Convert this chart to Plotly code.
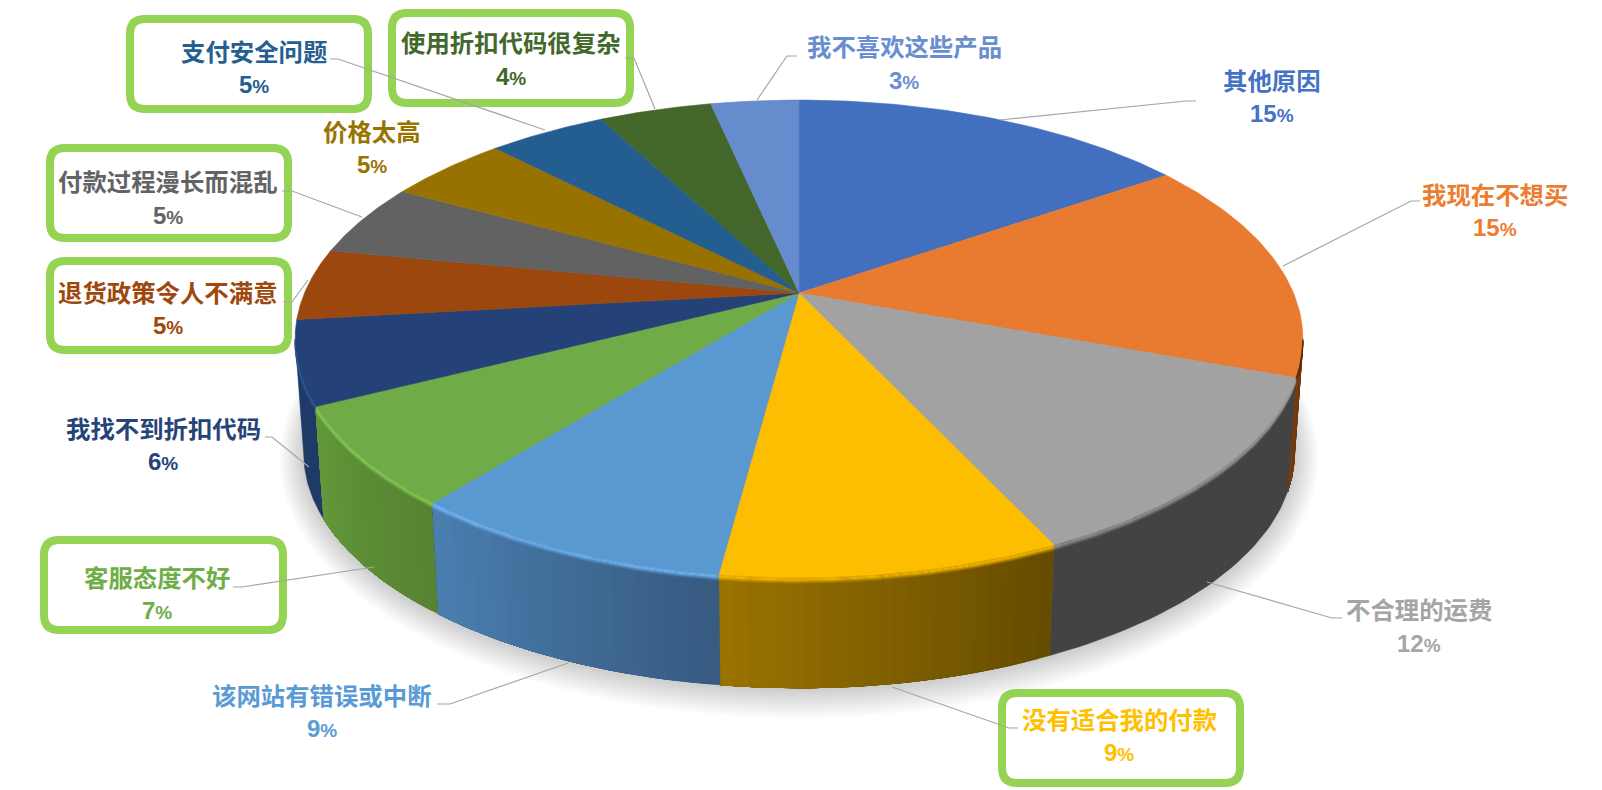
import numpy as np
import plotly.graph_objects as go

# slices clockwise from 12 o'clock
names = ["其他原因", "我现在不想买", "不合理的运费", "没有适合我的付款", "该网站有错误或中断",
         "客服态度不好", "我找不到折扣代码", "退货政策令人不满意", "付款过程漫长而混乱",
         "价格太高", "支付安全问题", "使用折扣代码很复杂", "我不喜欢这些产品"]
shares = [15.4, 15.2, 12.4, 9.1, 8.75, 6.7, 5.65, 4.85, 4.95, 4.7, 4.55, 4.35, 3.4]

label_colors = ["#4472C4", "#ED7D31", "#A5A5A5", "#FFC000", "#5B9BD5", "#70AD47", "#264478",
                "#9E480E", "#636363", "#997300", "#255E91", "#43682B", "#698ED0"]
top_colors = ["#4270BF", "#E97B30", "#A2A2A2", "#FDBD00", "#5A98D2", "#6FAB47", "#244277",
              "#9C470D", "#626262", "#977200", "#245D90", "#43662B", "#678CCD"]
# side wall colours, left and right end of each visible wall
wall_left = {1: "#7A3E10", 2: "#434343", 3: "#9A7300", 4: "#4A7FB0", 5: "#629839", 6: "#1F3A66"}
wall_right = {1: "#6A3408", 2: "#434343", 3: "#644B00", 4: "#375A80", 5: "#578233", 6: "#1F3A66"}
# rim light on the upper wall edge: colour, strength
bevel = {1: ("#5A2C08", 0.8), 2: ("#A2A2A2", 0.75), 3: ("#FDBD00", 0.9), 4: ("#6FB2F0", 1.0),
         5: ("#80C552", 1.0), 6: ("#2E5590", 0.8)}

# label centres: name x, name y, percent y
label_pos = [(1272, 79, 113), (1495, 193, 227), (1419, 608, 643), (1119, 718, 752),
             (322, 694, 728), (157, 576, 610), (163, 427, 461), (168, 291, 325),
             (168, 180, 215), (372, 130, 164), (254, 50, 84), (511, 41, 76), (904, 45, 80)]

# centre lines of the green frames
frames = [(130, 19, 368, 109), (392, 13, 630, 103), (50, 148, 288, 238), (50, 261, 288, 350),
          (44, 540, 283, 630), (1002, 693, 1240, 783)]
leaders = [
    [(1196, 101), (1186, 101), (999, 120)],
    [(1420, 201), (1411, 201), (1283, 266)],
    [(1342, 618), (1332, 618), (1207, 582)],
    [(1018, 728), (1009, 728), (892, 687)],
    [(437, 704), (450, 704), (568, 663)],
    [(233, 587), (242, 587), (374, 567)],
    [(265, 437), (272, 437), (309, 467)],
    [(283, 302), (292, 302), (308, 280)],
    [(282, 191), (292, 191), (362, 217)],
    [(330, 59), (338, 59), (545, 130)],
    [(625, 58), (634, 58), (655, 109)],
    [(797, 56), (787, 56), (757, 100)],
]

# tilted disc: circle seen in perspective
CX, CY = 799, 293
RX, RY, K = 494.5, 230, 0.192
WALL = 115
WALL_SHRINK = 0.983


def project(theta, grow=0.0, drop=0.0, shrink=1.0):
    u, v = np.sin(theta), np.cos(theta)
    d = 1 + K * v
    return CX + (RX + grow) * shrink * u / d, CY - (RY + grow) * shrink * v / d + drop


def mix(c1, c2, t):
    a = [int(c1[i:i + 2], 16) for i in (1, 3, 5)]
    b = [int(c2[i:i + 2], 16) for i in (1, 3, 5)]
    return "#%02x%02x%02x" % tuple(round(a[i] + (b[i] - a[i]) * t) for i in range(3))


def rgba(c, alpha):
    return "rgba(%d,%d,%d,%.3f)" % (int(c[1:3], 16), int(c[3:5], 16), int(c[5:7], 16), alpha)


fig = go.Figure()


def add_poly(x, y, color):
    fig.add_trace(go.Scatter(x=x, y=y, mode="lines", fill="toself", fillcolor=color,
                             line=dict(color=color, width=0.6), hoverinfo="skip", showlegend=False))


edges = np.cumsum([0] + shares) / sum(shares) * 2 * np.pi
# the wall shows between the two widest points of the disc
vis_a, vis_b = np.pi / 2 + np.arcsin(K), 3 * np.pi / 2 - np.arcsin(K)

# soft shadow round the foot of the wall
circle = np.linspace(0, 2 * np.pi, 241)
for g in np.arange(24, 0, -2):
    sx, sy = project(circle, grow=g, drop=WALL + 1, shrink=WALL_SHRINK)
    fig.add_trace(go.Scatter(x=sx, y=sy, mode="lines", fill="toself", fillcolor="rgba(0,0,0,0.014)",
                             line=dict(width=0), hoverinfo="skip", showlegend=False))

# walls, each band painted over the rest of its slice so no seams show
for i in [1, 6, 2, 5, 3, 4]:
    a = max(edges[i], vis_a)
    b = min(edges[i + 1], vis_b)
    n = 1 if wall_left[i] == wall_right[i] else 24
    cuts = np.linspace(a, b, n + 1)
    for j in range(n):
        t = 1 - (j + 0.5) / n
        th = np.linspace(cuts[j], b, 40)
        x1, y1 = project(th)
        x2, y2 = project(th[::-1], drop=WALL, shrink=WALL_SHRINK)
        add_poly(np.r_[x1, x2, x1[0]], np.r_[y1, y2, y1[0]], mix(wall_left[i], wall_right[i], t))

# top face
for i in range(len(shares)):
    th = np.linspace(edges[i], edges[i + 1], 60)
    x, y = project(th)
    add_poly(np.r_[CX, x, CX], np.r_[CY, y, CY], top_colors[i])

# rim light where face turns into wall
for i in wall_left:
    a = max(edges[i], vis_a)
    b = min(edges[i + 1], vis_b)
    th = np.linspace(a, b, 60)
    col, strength = bevel[i]
    for drop, al in [(5.5, 0.15), (4.5, 0.35), (3.5, 0.6), (2.5, 0.9), (1.5, 1.0), (0.5, 0.7)]:
        x, y = project(th, drop=drop)
        fig.add_trace(go.Scatter(x=x, y=y, mode="lines", line=dict(color=rgba(col, al * strength), width=1.2),
                                 hoverinfo="skip", showlegend=False))

shapes = []
for x0, y0, x1, y1 in frames:
    r = 15
    path = (f"M {x0 + r} {y0} L {x1 - r} {y0} Q {x1} {y0} {x1} {y0 + r} L {x1} {y1 - r} "
            f"Q {x1} {y1} {x1 - r} {y1} L {x0 + r} {y1} Q {x0} {y1} {x0} {y1 - r} L {x0} {y0 + r} "
            f"Q {x0} {y0} {x0 + r} {y0} Z")
    shapes.append(dict(type="path", path=path, fillcolor="white", line=dict(color="#94D354", width=8)))
for pts in leaders:
    path = "M " + " L ".join(f"{px} {py}" for px, py in pts)
    shapes.append(dict(type="path", path=path, line=dict(color="#A6A6A6", width=1.2)))

annotations = []
for name, share, color, pos in zip(names, shares, label_colors, label_pos):
    annotations.append(dict(x=pos[0], y=pos[1], text=f"<b>{name}</b>", showarrow=False,
                            font=dict(family="Noto Sans CJK SC", size=24.4, color=color)))
    pct = f'<b>{round(share)}<span style="font-size:19px">%</span></b>'
    annotations.append(dict(x=pos[0], y=pos[2], text=pct, showarrow=False,
                            font=dict(family="Liberation Sans", size=24, color=color)))

fig.update_layout(
    width=1602, height=790,
    margin=dict(l=0, r=0, t=0, b=0),
    paper_bgcolor="white", plot_bgcolor="white",
    showlegend=False,
    xaxis=dict(range=[0, 1602], visible=False, fixedrange=True),
    yaxis=dict(range=[790, 0], visible=False, fixedrange=True),
    shapes=shapes, annotations=annotations,
)
fig.write_html("out.html", config={"displayModeBar": False},
               post_script="document.body.style.margin='0';document.body.style.overflow='hidden';")
